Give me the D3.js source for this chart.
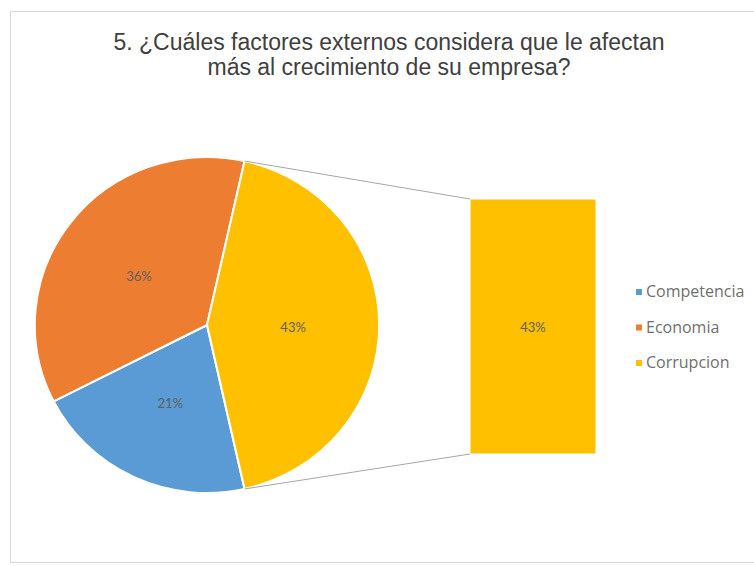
<!DOCTYPE html>
<html>
<head>
<meta charset="utf-8">
<script src="https://cdn.jsdelivr.net/npm/d3@7"></script>
<style>
  html, body { margin: 0; padding: 0; background: #fff; }
  svg { display: block; }
</style>
</head>
<body>
<svg id="chart" width="754" height="566"></svg>
<script>
const titleLines = ["5. ¿Cuáles factores externos considera que le afectan", "más al crecimiento de su empresa?"];
const categories = ["Competencia", "Economia", "Corrupcion"];
const values = [21, 36, 43];
const colors = ["#5B9BD5", "#ED7D31", "#FFC000"];
const barCategories = ["Corrupcion"]; // secondary plot (bar of pie)

const svg = d3.select("#chart");

// chart border
svg.append("rect").attr("x", 10.5).attr("y", 11.5).attr("width", 760).attr("height", 551)
  .attr("fill", "#fff").attr("stroke", "#d9d9d9").attr("stroke-width", 1);

// title
const title = svg.append("text").attr("text-anchor", "middle")
  .attr("font-family", "Liberation Sans, Arial, sans-serif").attr("font-size", 23)
  .attr("fill", "#404040");
titleLines.forEach((t, i) => title.append("tspan").attr("x", 389).attr("y", 50 + i * 25).text(t));

// pie
const total = d3.sum(values);
const barShare = d3.sum(values.filter((v, i) => barCategories.includes(categories[i]))) / total;
const cx = 207, cy = 325, r = 168, sx = 1.025;
const pie = d3.pie().sort(null).value(d => d)
  .startAngle(Math.PI / 2 + barShare * Math.PI)
  .endAngle(Math.PI / 2 + barShare * Math.PI + 2 * Math.PI);
const arcs = pie(values);
const arc = d3.arc().innerRadius(0).outerRadius(r);
const g = svg.append("g").attr("transform", `translate(${cx},${cy}) scale(${sx},1)`);
g.selectAll("path").data(arcs).join("path")
  .attr("d", arc)
  .attr("fill", (d, i) => colors[i])
  .attr("stroke", "#fff").attr("stroke-width", 2).attr("stroke-linejoin", "round");

const fmt = d3.format(".0%");
const labelArc = d3.arc().innerRadius(r * 0.5).outerRadius(r * 0.5);
const labelFont = "Lato, 'Open Sans', sans-serif";
arcs.forEach((d, i) => {
  const [lx, ly] = labelArc.centroid(d);
  svg.append("text").attr("x", cx + lx * sx).attr("y", cy + ly + 7)
    .attr("text-anchor", "middle").attr("font-family", labelFont).attr("font-size", 13)
    .attr("fill", "#5f5f5f").text(fmt(values[i] / total));
});

// secondary bar
const barIdx = categories.indexOf(barCategories[0]);
const by = d3.scaleLinear().domain([0, values[barIdx]]).range([454, 199]);
const bx0 = 470, bx1 = 596;
svg.append("rect").attr("x", bx0).attr("y", by(values[barIdx])).attr("width", bx1 - bx0)
  .attr("height", by(0) - by(values[barIdx])).attr("fill", colors[barIdx])
  .attr("stroke", "#fff").attr("stroke-width", 1);
svg.append("text").attr("x", (bx0 + bx1) / 2).attr("y", (by(0) + by(values[barIdx])) / 2 + 5)
  .attr("text-anchor", "middle").attr("font-family", labelFont).attr("font-size", 13)
  .attr("fill", "#5f5f5f").text(fmt(values[barIdx] / total));

// connector lines
const yArc = arcs[barIdx];
const pt = a => [cx + sx * r * Math.sin(a), cy - r * Math.cos(a)];
const pTop = pt(yArc.startAngle), pBot = pt(yArc.endAngle);
svg.append("line").attr("x1", pTop[0]).attr("y1", pTop[1]).attr("x2", bx0).attr("y2", by(values[barIdx]))
  .attr("stroke", "#a6a6a6").attr("stroke-width", 1);
svg.append("line").attr("x1", pBot[0]).attr("y1", pBot[1]).attr("x2", bx0).attr("y2", by(0))
  .attr("stroke", "#a6a6a6").attr("stroke-width", 1);

// legend
const leg = svg.append("g");
categories.forEach((c, i) => {
  const y = 292 + i * 35.5;
  leg.append("rect").attr("x", 636).attr("y", y - 3).attr("width", 6).attr("height", 6).attr("fill", colors[i]);
  leg.append("text").attr("x", 646).attr("y", y + 5).attr("font-family", "'Open Sans', sans-serif").attr("font-size", 16)
    .attr("fill", "#6f6f6f").text(c);
});
</script>
</body>
</html>
